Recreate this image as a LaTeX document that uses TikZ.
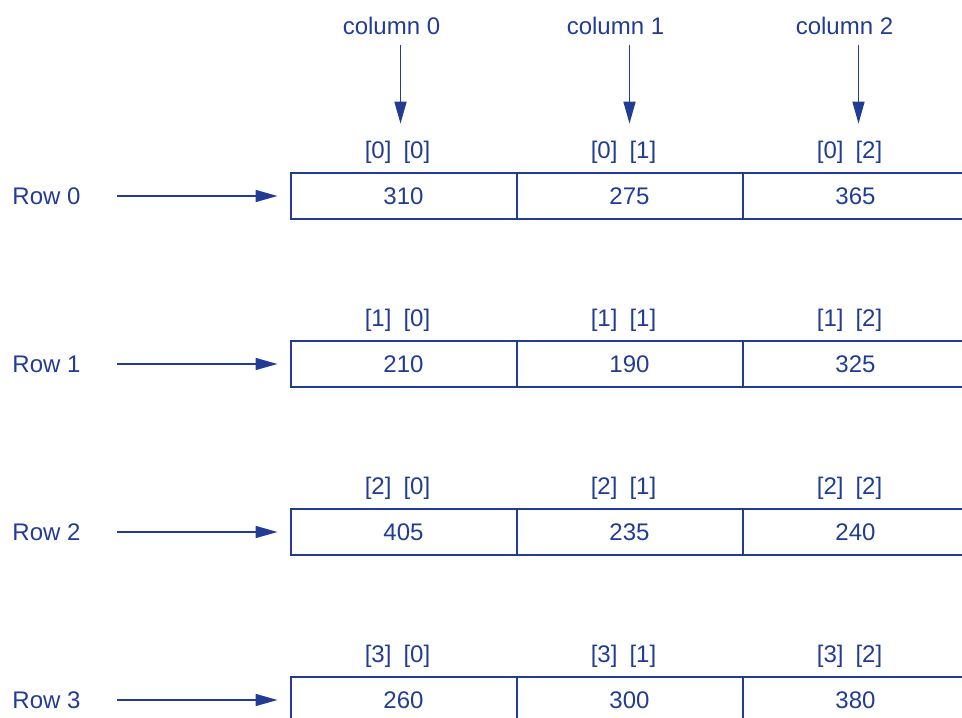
\documentclass[tikz,border=0pt]{standalone}
\usepackage{fontspec}
\setmainfont{Liberation Sans}
\usepackage{xcolor}
\usepackage{tikz}
\usetikzlibrary{arrows.meta, positioning}

\definecolor{inkblue}{RGB}{34,60,148}

\begin{document}
\begin{tikzpicture}[x=0.5pt, y=-0.5pt,
        every node/.style={text=inkblue, font=\fontsize{12}{14}\selectfont, inner sep=0pt, outer sep=0pt},
        cell/.style={draw=inkblue, line width=1pt, minimum width=113pt, minimum height=23pt},
        arr/.style={draw=inkblue, line width=0.8pt, -{Triangle[length=11pt,width=6pt]}}]
    \useasboundingbox (0,0) rectangle (962,717);
    \clip (0,0) rectangle (962,717);

                \node[cell] (c00) at (403.5,196) {310};
                \node[cell] (c01) [right=0pt of c00] {275};
                \node[cell] (c02) [right=0pt of c01] {365};

                \node[cell] (c10) [below=61pt of c00] {210};
                \node[cell] (c11) [right=0pt of c10] {190};
                \node[cell] (c12) [right=0pt of c11] {325};

                \node[cell] (c20) [below=61pt of c10] {405};
                \node[cell] (c21) [right=0pt of c20] {235};
                \node[cell] (c22) [right=0pt of c21] {240};

                \node[cell] (c30) [below=61pt of c20] {260};
                \node[cell] (c31) [right=0pt of c30] {300};
                \node[cell] (c32) [right=0pt of c31] {380};

                % subscripts over each cell
                \node (i00) [above=5pt of c00, xshift=-3pt] {[0]\enskip[0]};
                \node (i01) [above=5pt of c01, xshift=-3pt] {[0]\enskip[1]};
                \node (i02) [above=5pt of c02, xshift=-3pt] {[0]\enskip[2]};
                \node (i10) [above=5pt of c10, xshift=-3pt] {[1]\enskip[0]};
                \node (i11) [above=5pt of c11, xshift=-3pt] {[1]\enskip[1]};
                \node (i12) [above=5pt of c12, xshift=-3pt] {[1]\enskip[2]};
                \node (i20) [above=5pt of c20, xshift=-3pt] {[2]\enskip[0]};
                \node (i21) [above=5pt of c21, xshift=-3pt] {[2]\enskip[1]};
                \node (i22) [above=5pt of c22, xshift=-3pt] {[2]\enskip[2]};
                \node (i30) [above=5pt of c30, xshift=-3pt] {[3]\enskip[0]};
                \node (i31) [above=5pt of c31, xshift=-3pt] {[3]\enskip[1]};
                \node (i32) [above=5pt of c32, xshift=-3pt] {[3]\enskip[2]};

                % column headings
                \node (col0) [above=53pt of i00, xshift=-3pt] {column 0};
                \node (col1) [above=53pt of i01, xshift=-4pt] {column 1};
                \node (col2) [above=53pt of i02, xshift=-2.5pt] {column 2};

                % row headings
                \node (row0) [left=105pt of c00] {Row 0};
                \node (row1) [left=105pt of c10] {Row 1};
                \node (row2) [left=105pt of c20] {Row 2};
                \node (row3) [left=105pt of c30] {Row 3};

                \draw[arr, shorten <=5pt, shorten >=8.5pt] ([xshift=1.5pt]col0.south -| i00.north) -- ([xshift=1.5pt]i00.north);
                \draw[arr, shorten <=5pt, shorten >=8.5pt] ([xshift=3pt]col1.south -| i01.north) -- ([xshift=3pt]i01.north);
                \draw[arr, shorten <=5pt, shorten >=8.5pt] ([xshift=4.5pt]col2.south -| i02.north) -- ([xshift=4.5pt]i02.north);

                \draw[arr, shorten <=18pt, shorten >=6.5pt] (row0) -- (c00);
                \draw[arr, shorten <=18pt, shorten >=6.5pt] (row1) -- (c10);
                \draw[arr, shorten <=18pt, shorten >=6.5pt] (row2) -- (c20);
                \draw[arr, shorten <=18pt, shorten >=6.5pt] (row3) -- (c30);
            \end{tikzpicture}
\end{document}
